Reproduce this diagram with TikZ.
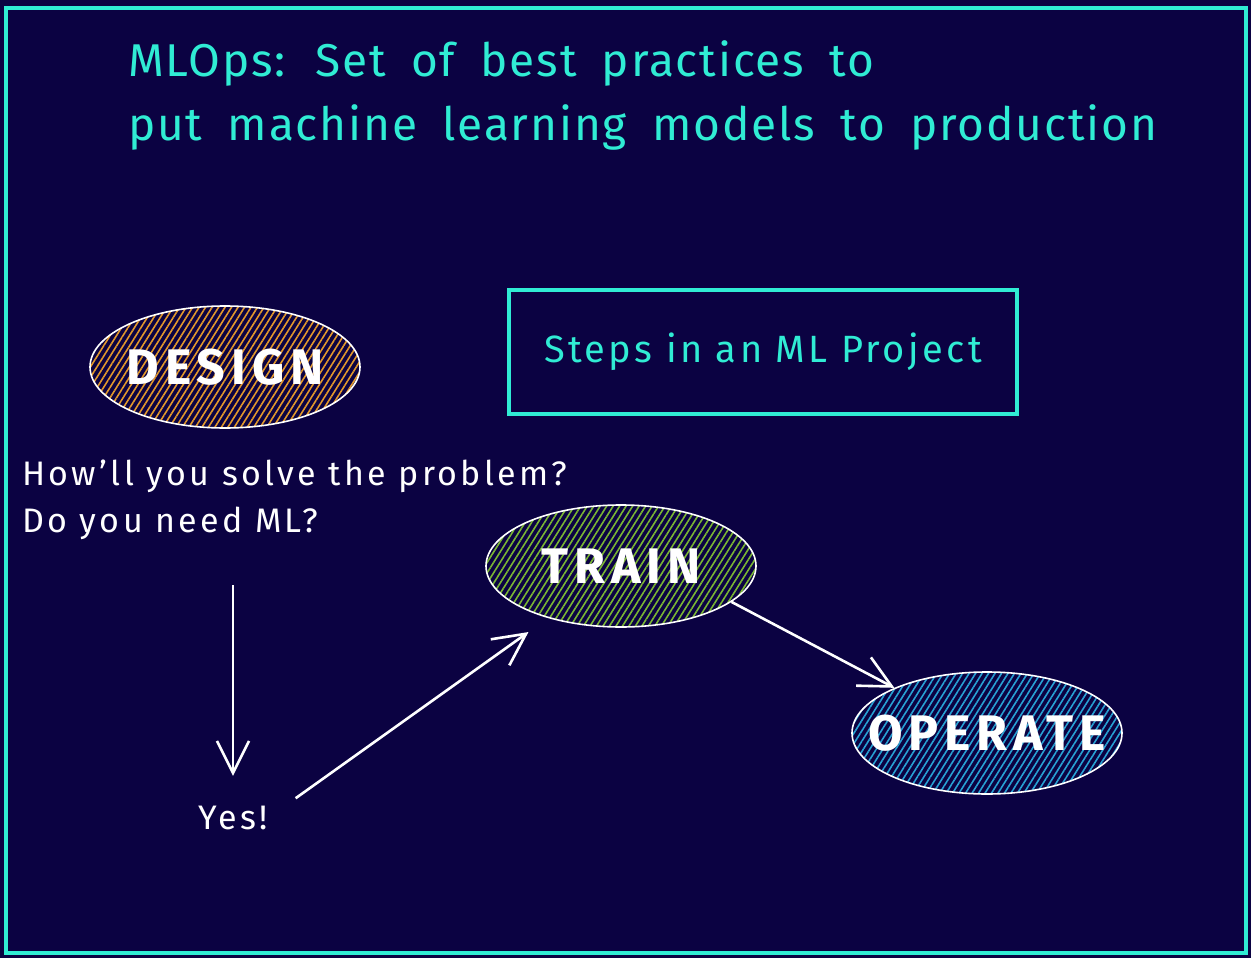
\documentclass[tikz,border=0pt]{standalone}
\usepackage{fontspec}
\setmainfont{Fira Sans}
\newfontfamily\mltitlefont{Fira Sans}[LetterSpace=4,WordSpace=1.8]
\usetikzlibrary{arrows.meta,shapes.geometric,patterns.meta}
\definecolor{mlbg}{RGB}{11,2,66}
\definecolor{mlteal}{RGB}{48,236,212}
\definecolor{mlorange}{RGB}{226,152,44}
\definecolor{mlgreen}{RGB}{122,182,52}
\definecolor{mlblue}{RGB}{40,162,212}
\def\mlWide#1{\addfontfeature{LetterSpace=#1}}
\def\mlPhase#1{\makebox[0pt]{#1}}

\begin{document}
\begin{tikzpicture}[
    x=1pt, y=-1pt,
    mlframe/.style  = {draw=mlteal, line width=4.5pt},
    mlhatch/.style  = {pattern={Lines[angle=58,distance=5.5pt,line width=1.6pt]},
                       pattern color=#1},
    mlphase/.style  = {ellipse, draw=white, line width=1.6pt, inner sep=0pt,
                       minimum width=270pt, minimum height=122pt, text=white,
                       font=\fontsize{50}{56}\selectfont\bfseries\mlWide{12}},
    mlnote/.style   = {text=white, font=\fontsize{34}{47}\selectfont\mlWide{10},
                       inner sep=0pt},
    mlarr/.style    = {white, line width=2.6pt,
                       -{Straight Barb[length=32pt,width=32pt,line width=2.6pt]}}]

  \fill[mlbg] (0,0) rectangle (1251,958);
  \useasboundingbox (0,0) rectangle (1251,958);
  \draw[mlframe] (6,8) rectangle (1246,953);

  %% ---- heading -------------------------------------------------------
  \node[text=mlteal, font=\mltitlefont\fontsize{46}{64}\selectfont,
        align=left, anchor=north west, inner sep=0pt] (title) at (128,40)
    {MLOps: Set of best practices to\\put machine learning models to production};

  \node[mlframe, text=mlteal, font=\fontsize{38}{44}\selectfont\mlWide{9},
        minimum width=508pt, minimum height=124pt] (steps) at (763,352)
    {Steps in an ML Project};

  %% ---- phases --------------------------------------------------------
  \node[mlphase, mlhatch=mlorange] (design)  at (225,367) {\mlPhase{DESIGN}};
  \node[mlphase, mlhatch=mlgreen]  (train)   at (621,566) {\mlPhase{TRAIN}};
  \node[mlphase, mlhatch=mlblue]   (operate) at (987,733) {\mlPhase{OPERATE}};

  \node[mlnote, align=left, anchor=north west] (question) at (22,460)
    {How'll you solve the problem?\\Do you need ML?};
  \node[mlnote] (yes) at (233,818) {Yes!};

  %% ---- flow ----------------------------------------------------------
  \draw[mlarr, shorten <=45pt, shorten >=30pt] (question.south -| yes.north) -- (yes.north);
  \draw[mlarr, shorten <=34pt, shorten >=24pt] (yes.east) -- (train);
  \draw[mlarr] (train.-18) -- (operate.154);
\end{tikzpicture}
\end{document}
